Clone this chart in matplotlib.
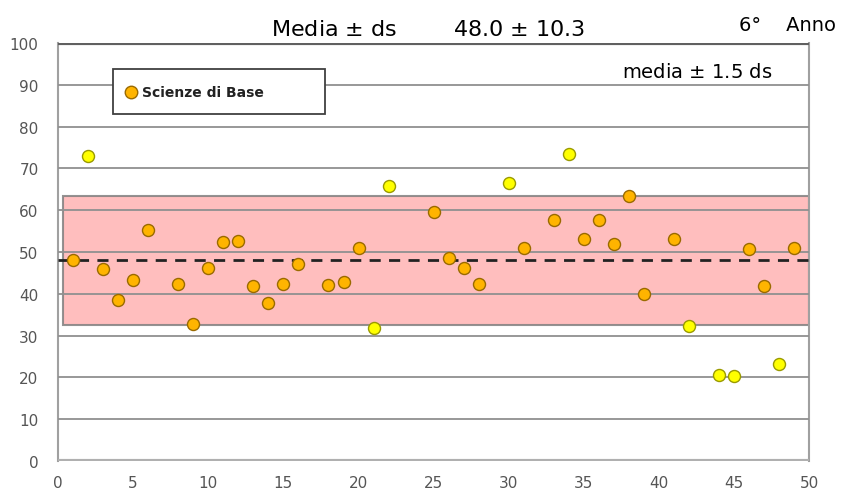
import numpy as np
import matplotlib.pyplot as plt
from matplotlib.patches import Rectangle

# data
student = [1, 2, 3, 4, 5, 6, 8, 9, 10, 11, 12, 13, 14, 15, 16, 18, 19, 20, 21, 22,
           25, 26, 27, 28, 30, 31, 33, 34, 35, 36, 37, 38, 39, 41, 42, 44, 45, 46,
           47, 48, 49]
score = [48.1, 73.0, 45.9, 38.6, 43.3, 55.3, 42.3, 32.8, 46.1, 52.4, 52.6, 41.9,
         37.8, 42.3, 47.1, 42.1, 42.7, 51.0, 31.7, 65.8, 59.5, 48.6, 46.1, 42.3,
         66.5, 51.0, 57.6, 73.4, 53.1, 57.6, 51.9, 63.4, 39.9, 53.1, 32.3, 20.5,
         20.3, 50.7, 41.9, 23.3, 51.0]
mean = 48.0
sd = 10.3

x = np.array(student)
y = np.array(score)
lo, hi = mean - 1.5 * sd, mean + 1.5 * sd
inside = (y >= lo) & (y <= hi)

fig = plt.figure(figsize=(8.46, 5.02), dpi=100)
ax = fig.add_axes([0.0686, 0.080, 0.888, 0.832])
ax.set_xlim(0, 50)
ax.set_ylim(0, 100)

# horizontal grid lines
for g in range(10, 100, 10):
    ax.axhline(g, color='#909090', lw=1.3, zorder=3)
ax.axhline(0, color='#b0b0b0', lw=3, zorder=3)
ax.axhline(100, color='#606060', lw=3, zorder=3)

# band mean +- 1.5 sd
ax.add_patch(Rectangle((0.3, lo), 49.7, hi - lo, facecolor='#ffb3b3', alpha=0.85,
                       edgecolor='#808080', lw=1.5, zorder=2))
ax.axhline(mean, color='#222222', lw=2, ls=(0, (4, 3)), zorder=4)

ax.scatter(x[inside], y[inside], s=75, c='#ffb400', edgecolors='#9a6a00',
           linewidths=1, zorder=5)
ax.scatter(x[~inside], y[~inside], s=75, c='#ffff00', edgecolors='#9a9a00',
           linewidths=1, zorder=5)

for s in ['left', 'right']:
    ax.spines[s].set_color('#a0a0a0')
    ax.spines[s].set_linewidth(1.5)
ax.spines['top'].set_visible(False)
ax.spines['bottom'].set_visible(False)

ax.set_xticks(range(0, 51, 5))
ax.set_yticks(range(0, 101, 10))
ax.tick_params(length=0, colors='#555555', labelsize=11, pad=14)
ax.tick_params(axis='x', pad=10)

# legend box drawn by hand to match the size of the original
ax.add_patch(Rectangle((0.073, 0.83), 0.282, 0.108, transform=ax.transAxes,
                       facecolor='white', edgecolor='#404040', lw=1.3, zorder=6))
ax.plot([0.097], [0.884], 'o', transform=ax.transAxes, markersize=9,
        markerfacecolor='#ffb400', markeredgecolor='#9a6a00', zorder=7,
        clip_on=False)
ax.text(0.112, 0.884, 'Scienze di Base', transform=ax.transAxes, va='center',
        ha='left', fontsize=10, fontweight='bold', color='#222222', zorder=7)

fig.text(0.32, 0.94, 'Media $\\pm$ ds', ha='left', va='center', fontsize=16)
fig.text(0.535, 0.94, '48.0 $\\pm$ 10.3', ha='left', va='center', fontsize=16)
fig.text(0.874, 0.95, '6°    Anno', ha='left', va='center', fontsize=14)
fig.text(0.735, 0.855, 'media $\\pm$ 1.5 ds', ha='left', va='center', fontsize=14)

fig.savefig('out.png', dpi=100)
